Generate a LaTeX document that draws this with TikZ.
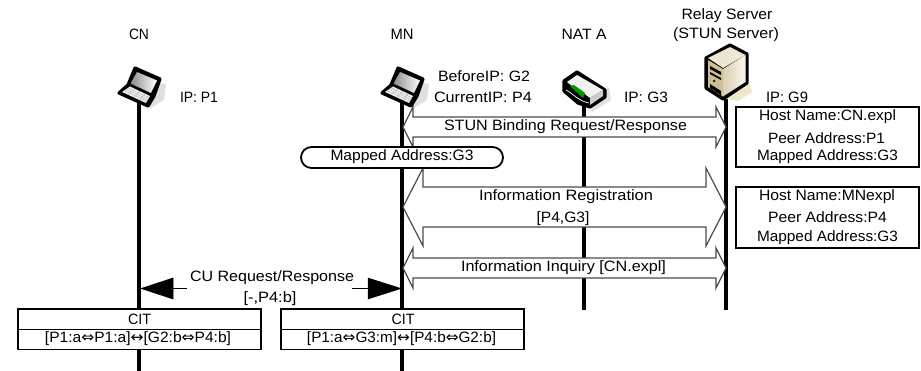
\documentclass[tikz,border=0pt]{standalone}
\usepackage{graphicx}
\usepackage{fontspec}
\setmainfont{Liberation Sans}
\newfontfamily\symfont{DejaVu Sans}
\usetikzlibrary{calc,shapes.misc}
\newcommand{\wt}[2]{\resizebox{#1pt}{\height}{#2}}
\newcommand{\dbl}{{\symfont ⇔}}
\newcommand{\sgl}{{\symfont ↔}}
\definecolor{srvtop}{HTML}{EDE6D2}
\definecolor{srvfront}{HTML}{CDBE98}
\definecolor{srvsideA}{HTML}{D9CEB0}
\definecolor{srvsideB}{HTML}{FAF7EF}
\definecolor{srvshadow}{HTML}{EFE6CC}
\tikzset{
  lbl/.style={inner sep=0pt,font=\fontsize{15pt}{16pt}\selectfont},
  lifeline/.style={line width=3.3pt,black},
  blockarrow/.style={draw=black!70,line width=1.2pt,fill=white,line join=miter},
  plainbox/.style={draw=black,line width=1.8pt,fill=white},
  solidtip/.style={fill=black,draw=black,line width=0.5pt},
  culine/.style={line width=1.5pt,black},
  icoedge/.style={fill=black,draw=black,line width=3.2pt,line join=round},
  softshadow/.style={fill=black!12,draw=none}
}
% double block arrow from (a) to (b): head length, head half height, shaft half height
\newcommand{\dblock}[6][]{%
  \draw[blockarrow] (#2)
   -- ($(#2)+(#4,-#5)$) -- ($(#2)+(#4,-#6)$)
   -- ($(#3)+(-#4,-#6)$) -- ($(#3)+(-#4,-#5)$) -- (#3)
   -- ($(#3)+(-#4,#5)$) -- ($(#3)+(-#4,#6)$)
   -- ($(#2)+(#4,#6)$) -- ($(#2)+(#4,#5)$) -- cycle;}
\newcommand{\laptopicon}[2]{%
 \begin{scope}[shift={(#1,#2)}]
  \fill[softshadow] (0,-8) -- (27,-4) -- (25,12) -- (10,21) -- cycle;
  \draw[icoedge] (-4,-20) -- (21,-9) -- (15,8) -- (9,18) -- (-20,5) -- (-11,-3) -- cycle;
  \shade[left color=black!45,right color=white] (-2,-16) -- (18,-7.5) -- (12,5) -- (-8.5,-4.5) -- cycle;
  \fill[black!6] (-17,4) -- (-9,-1.5) -- (11,8) -- (7,15) -- cycle;
  \foreach \k in {0.25,0.5,0.75}{
    \draw[black!30,line width=.4pt] ($(-17,4)!\k!(-9,-1.5)$) -- ($(7,15)!\k!(11,8)$);
    \draw[black!30,line width=.4pt] ($(-17,4)!\k!(7,15)$) -- ($(-9,-1.5)!\k!(11,8)$);}
 \end{scope}}
\begin{document}
\begin{tikzpicture}[x=1pt,y=-1pt]
\useasboundingbox (0,0) rectangle (921,371);
\fill[white] (0,0) rectangle (921,371);
% anchors on the lifelines
\coordinate (cnT) at (139,100); \coordinate (cnB) at (139,371);
\coordinate (mnT) at (402,100); \coordinate (mnB) at (402,371);
\coordinate (natT) at (584,100); \coordinate (natB) at (584,310);
\coordinate (rsT) at (726,95); \coordinate (rsB) at (726,310);
\draw[lifeline] (cnT) -- (cnB);
\draw[lifeline] (mnT) -- (mnB);
\draw[lifeline] (natT) -- (natB);
\draw[lifeline] (rsT) -- (rsB);
% icons
\laptopicon{139}{88}
\laptopicon{402}{88}
% router
\begin{scope}
  \fill[softshadow] (585,95) -- (609,88) -- (611,100) -- (592,112) -- cycle;
  \draw[icoedge] (564,81) -- (577,72) -- (605,90) -- (605,97) -- (590,107) -- (578,103) -- (564,91) -- cycle;
  \fill[black!5] (567,82) -- (577,75) -- (603,90) -- (590,98) -- (582,92) -- (572,86) -- cycle;
  \fill[black!20] (590,98) -- (603,90) -- (603,96) -- (590,105) -- cycle;
  \fill[green!60!black] (570,86) -- (574,85) -- (585,93) -- (583,98) -- cycle;
  \draw[white,line width=.7pt] (566,90) .. controls (574,94) and (578,101) .. (589,103);
\end{scope}
% server
\begin{scope}
  \fill[srvshadow] (722,98) -- (748,80) -- (752,92) -- (738,101) -- cycle;
  \draw[icoedge] (730,45) -- (747,54) -- (747,83) -- (723,99) -- (706,88) -- (706,58) -- cycle;
  \fill[srvtop] (708,58) -- (730,47) -- (745.5,55) -- (723,68) -- cycle;
  \fill[srvfront] (708,60) -- (723,69) -- (723,96.5) -- (708,87) -- cycle;
  \shade[left color=srvsideA,right color=srvsideB] (723,69) -- (745.5,55) -- (745.5,82) -- (723,96.5) -- cycle;
  \fill[black] (710,66) -- (721,72) -- (721,75) -- (710,69) -- cycle;
  \fill[black] (710,72) -- (721,78) -- (721,80) -- (710,74) -- cycle;
  \fill[green!30!black] (714,81) circle (1.5);
  \fill[black] (710,88) -- (721,95) -- (721,91) -- (710,84) -- cycle;
\end{scope}
% block arrows
\coordinate (stunL) at (403,127); \coordinate (stunR) at (726,127);
\coordinate (regL) at (403,207);  \coordinate (regR) at (726,207);
\coordinate (inqL) at (403,268);  \coordinate (inqR) at (726,268);
\dblock{stunL}{stunR}{10}{20}{10}
\dblock{regL}{regR}{20}{39}{20}
\dblock{inqL}{inqR}{10}{20}{10}
% pill
\node[plainbox,rounded rectangle,minimum width=202pt,minimum height=21pt,inner sep=0pt] (pill) at (402,157.5) {};
\node[lbl] (pilltxt) at (402,157) {\wt{143}{Mapped Address:G3}};
% titles
\node[lbl] (cn) at (139,34) {\wt{20}{CN}};
\node[lbl] (mn) at (402,34) {\wt{23}{MN}};
\node[lbl] (nat) at (584,34) {\wt{45}{NAT A}};
\node[lbl] (rs1) at (727,16) {\wt{91}{Relay Server}};
\node[lbl] (rs2) at (726,35) {\wt{106}{(STUN Server)}};
\node[lbl] (ip1) at (199,97) {\wt{38}{IP: P1}};
\node[lbl] (ipb) at (484,76) {\wt{92}{BeforeIP: G2}};
\node[lbl] (ipc) at (483,97) {\wt{98}{CurrentIP: P4}};
\node[lbl] (ip3) at (646,97) {\wt{44}{IP: G3}};
\node[lbl] (ip9) at (787,97) {\wt{42}{IP: G9}};
% arrow labels
\node[lbl] (stun) at (565.5,127) {\wt{243}{STUN Binding Request/Response}};
\node[lbl] (reg) at (566,197) {\wt{174}{Information Registration}};
\node[lbl] (regv) at (563,219) {\wt{53}{[P4,G3]}};
\node[lbl] (inq) at (563.5,268) {\wt{205}{Information Inquiry [CN.expl]}};
% right tables
\node[plainbox,minimum width=183pt,minimum height=60pt,inner sep=0pt] (tab1) at (827.5,137) {};
\node[plainbox,minimum width=183pt,minimum height=61pt,inner sep=0pt] (tab2) at (827.5,217.5) {};
\node[lbl] (t11) at (827.5,117) {\wt{137}{Host Name:CN.expl}};
\node[lbl] (t12) at (826.5,138) {\wt{117}{Peer Address:P1}};
\node[lbl] (t13) at (827.5,157) {\wt{141}{Mapped Address:G3}};
\node[lbl] (t21) at (827,197) {\wt{136}{Host Name:MNexpl}};
\node[lbl] (t22) at (827.5,217) {\wt{119}{Peer Address:P4}};
\node[lbl] (t23) at (827.5,238) {\wt{141}{Mapped Address:G3}};
% CU request
\coordinate (cuL) at (141,288.5); \coordinate (cuR) at (401,288.5);
\coordinate (cuLe) at (187,288.5); \coordinate (cuRe) at (352,288.5);
\coordinate (cuLb) at (173,288.5); \coordinate (cuRb) at (368,288.5);
\draw[culine] (cuLe) -- (cuLb);
\draw[culine] (cuRe) -- (cuRb);
\fill[solidtip] (cuL) -- ($(cuLb)+(0,-10.5)$) -- ($(cuLb)+(0,10.5)$) -- cycle;
\fill[solidtip] (cuR) -- ($(cuRb)+(0,-10.5)$) -- ($(cuRb)+(0,10.5)$) -- cycle;
\node[lbl] (cu) at (272,278) {\wt{164}{CU Request/Response}};
\node[lbl] (cuv) at (270,299) {\wt{53}{[-,P4:b]}};
% CIT boxes
\node[plainbox,minimum width=243pt,minimum height=20.5pt,inner sep=0pt] (cit1h) at (139.5,319.5) {};
\node[plainbox,minimum width=243pt,minimum height=20pt,inner sep=0pt] (cit1b) at (139.5,339.5) {};
\node[plainbox,minimum width=243pt,minimum height=20.5pt,inner sep=0pt] (cit2h) at (402.5,319.5) {};
\node[plainbox,minimum width=243pt,minimum height=20pt,inner sep=0pt] (cit2b) at (402.5,339.5) {};
\node[lbl] (cit1) at (139.5,319) {\wt{23}{CIT}};
\node[lbl] (cit2) at (403,319) {\wt{23}{CIT}};
\node[lbl] (c1r) at (138,339) {\wt{186}{[P1:a\dbl P1:a]\sgl[G2:b\dbl P4:b]}};
\node[lbl] (c2r) at (401.5,339) {\wt{189}{[P1:a\dbl G3:m]\sgl[P4:b\dbl G2:b]}};
\end{tikzpicture}
\end{document}
